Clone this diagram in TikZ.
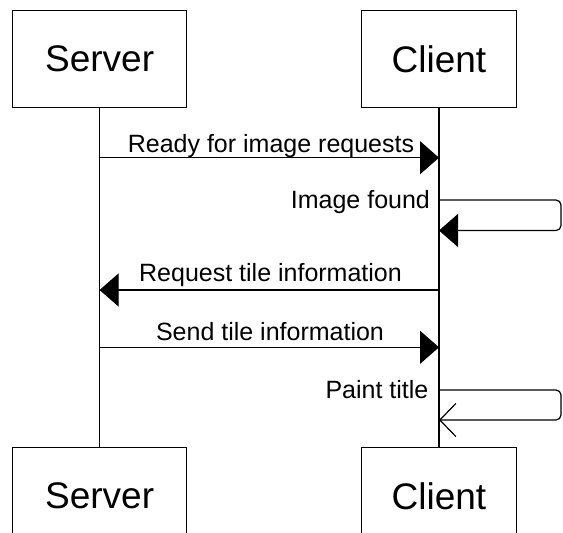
\documentclass[tikz,border=0pt]{standalone}
\usepackage{fontspec}
\setmainfont{Liberation Sans}
\usetikzlibrary{arrows.meta}
\begin{document}
\begin{tikzpicture}[x=1pt,y=-1pt,line width=1.2pt,
  actor/.style={draw,minimum height=97pt,inner sep=0pt,font=\fontsize{37}{44}\selectfont},
  lbl/.style={font=\fontsize{25}{30}\selectfont,inner sep=0pt},
  msg/.style={-{Triangle[length=19pt,width=33pt]}},
  openmsg/.style={-{Straight Barb[length=16pt,width=33pt]}},
  selfloop/.style={rounded corners=5pt}]
\useasboundingbox (0,0) rectangle (563,533);
% lifeline heads
\node[actor,minimum width=174pt] (s1) at (99.6,59.2) {Server};
\node[actor,minimum width=155pt] (c1) at (439,59.2) {Client};
\node[actor,minimum width=174pt] (s2) at (99.6,496) {Server};
\node[actor,minimum width=155pt] (c2) at (439,496) {Client};
% lifelines
\draw (s1) -- (s2);
\draw (c1) -- (c2);
% message anchor points
\coordinate (m1a) at (99.6,157.7);
\coordinate (m1b) at (439,157.7);
\coordinate (m2a) at (439,200);
\coordinate (m2r) at (561,200);
\coordinate (m2s) at (561,230.5);
\coordinate (m2b) at (439,230.5);
\coordinate (m3a) at (439,290);
\coordinate (m3b) at (99.6,290);
\coordinate (m4a) at (99.6,347.3);
\coordinate (m4b) at (439,347.3);
\coordinate (m5a) at (439,390);
\coordinate (m5r) at (561,390);
\coordinate (m5s) at (561,420);
\coordinate (m5b) at (439,420);
% messages
\draw[msg] (m1a) -- (m1b);
\node[lbl,anchor=base] (t1) at (271,152.3) {Ready for image requests};
\draw[msg,selfloop] (m2a) -- (m2r) -- (m2s) -- (m2b);
\node[lbl,anchor=base east] (t2) at (430.5,208) {Image found};
\draw[msg] (m3a) -- (m3b);
\node[lbl,anchor=base] (t3) at (270.5,281.7) {Request tile information};
\draw[msg] (m4a) -- (m4b);
\node[lbl,anchor=base] (t4) at (270,340) {Send tile information};
\draw[openmsg,selfloop] (m5a) -- (m5r) -- (m5s) -- (m5b);
\node[lbl,anchor=base east] (t5) at (429,398) {Paint title};
\end{tikzpicture}
\end{document}
